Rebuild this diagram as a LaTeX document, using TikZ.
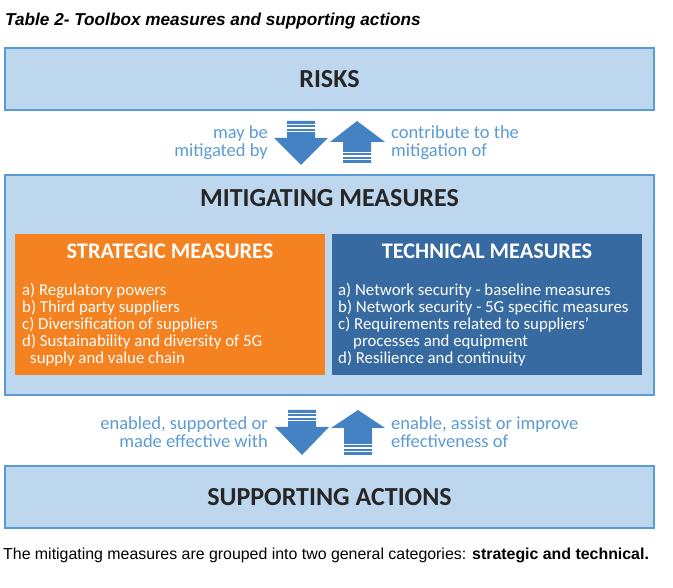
\documentclass[tikz,border=0pt]{standalone}
\usepackage{fontspec}
\usepackage{tikz}
\setmainfont{Carlito}
\newfontfamily\arialfont{Liberation Sans}
\usetikzlibrary{positioning}
\definecolor{lblue}{RGB}{189, 215, 238}
\definecolor{bblue}{RGB}{91, 155, 213}
\definecolor{sorange}{RGB}{245, 130, 32}
\definecolor{tblue}{RGB}{55, 106, 160}
\definecolor{ablue}{RGB}{68, 130, 196}
\tikzset{panel/.style = {draw = bblue, line width = 2.5pt, fill = lblue, inner sep = 0},
  heading/.style = {font = \fontsize{26}{30}\selectfont\bfseries, text = black!85},
  subhead/.style = {font = \fontsize{22.3}{26}\selectfont\bfseries, text = white},
  itemtext/.style = {font = \fontsize{16.8}{16.9}\selectfont, text = white, align = left, inner sep = 0},
  arrowlabel/.style = {font = \fontsize{18.5}{18}\selectfont, text = bblue, inner sep = 0},
  stripe/.style = {white, line width = 1.1pt}}

\begin{document}
\begin{tikzpicture}[x = 1pt, y = -1pt]
      \useasboundingbox (0, 0) rectangle (673, 588);

      \node [anchor = base west, inner sep = 0, font = \arialfont\fontsize{17.2}{20}\selectfont\bfseries\itshape] (title) at (5, 26) {Table 2- Toolbox measures and supporting actions};

      % the three bands
      \node [panel, minimum width = 649pt, minimum height = 62pt, heading] (risks) at (329.5, 79) {RISKS};
      \node [panel, minimum width = 649pt, minimum height = 220pt] (mitig) at (329.5, 285) {};
      \node [heading] (mitigtitle) at (329.5, 198) {MITIGATING MEASURES};
      \node [panel, minimum width = 649pt, minimum height = 62pt, heading] (support) at (329.5, 497) {SUPPORTING ACTIONS};

      % strategic and technical
      \node [fill = sorange, minimum width = 310pt, minimum height = 141pt, anchor = north west, inner sep = 0] (strat) at (15, 234) {};
      \node [subhead] (strathead) at (170, 251) {STRATEGIC MEASURES};
      \node [itemtext, anchor = north west] (stratitems) at (22, 283) {a) Regulatory powers\\ b) Third party suppliers\\ c) Diversification of suppliers\\ d) Sustainability and diversity of 5G\\ \hspace*{8pt}supply and value chain};

      \node [fill = tblue, minimum width = 310pt, minimum height = 141pt, anchor = north west, inner sep = 0] (tech) at (332, 234) {};
      \node [subhead] (techhead) at (487, 251) {TECHNICAL MEASURES};
      \node [itemtext, anchor = north west] (techitems) at (338, 283) {a) Network security - baseline measures\\ b) Network security - 5G specific measures\\ c) Requirements related to suppliers'\\ \hspace*{15pt}processes and equipment\\ d) Resilience and continuity};

      % arrows between risks and measures
      \fill [ablue] (287, 121) -- (315, 121) -- (315, 138) -- (328, 138) -- (301, 165) -- (274, 138) -- (287, 138) -- cycle;
      \draw [stripe] (287, 124.5) -- (315, 124.5);
      \draw [stripe] (287, 128) -- (315, 128);
      \draw [stripe] (287, 131.5) -- (315, 131.5);
      \fill [ablue] (357, 121) -- (385, 142) -- (371, 142) -- (371, 163) -- (343, 163) -- (343, 142) -- (330, 142) -- cycle;
      \draw [stripe] (343, 152.5) -- (371, 152.5);
      \draw [stripe] (343, 156) -- (371, 156);
      \draw [stripe] (343, 159.5) -- (371, 159.5);

      \node [arrowlabel, anchor = east, align = right] (mitigby) at (268, 142.5) {may be\\ mitigated by};
      \node [arrowlabel, anchor = west, align = left] (contrib) at (391, 142.5) {contribute to the\\ mitigation of};

      % arrows between measures and supporting actions
      \fill [ablue] (288, 410) -- (316, 410) -- (316, 427) -- (329, 427) -- (302, 455) -- (275, 427) -- (288, 427) -- cycle;
      \draw [stripe] (288, 413.5) -- (316, 413.5);
      \draw [stripe] (288, 417) -- (316, 417);
      \draw [stripe] (288, 420.5) -- (316, 420.5);
      \fill [ablue] (358, 410) -- (385, 428) -- (372, 428) -- (372, 455) -- (344, 455) -- (344, 428) -- (331, 428) -- cycle;
      \draw [stripe] (344, 444.5) -- (372, 444.5);
      \draw [stripe] (344, 448) -- (372, 448);
      \draw [stripe] (344, 451.5) -- (372, 451.5);

      \node [arrowlabel, anchor = east, align = right] (enabled) at (268, 432) {enabled, supported or\\ made effective with};
      \node [arrowlabel, anchor = west, align = left] (enable) at (391, 432) {enable, assist or improve\\ effectiveness of};

      \node [anchor = base west, inner sep = 0, font = \arialfont\fontsize{15.9}{18}\selectfont] (footer) at (3, 559) {The mitigating measures are grouped into two general categories: \textbf{strategic and technical.}};
    \end{tikzpicture}
\end{document}
